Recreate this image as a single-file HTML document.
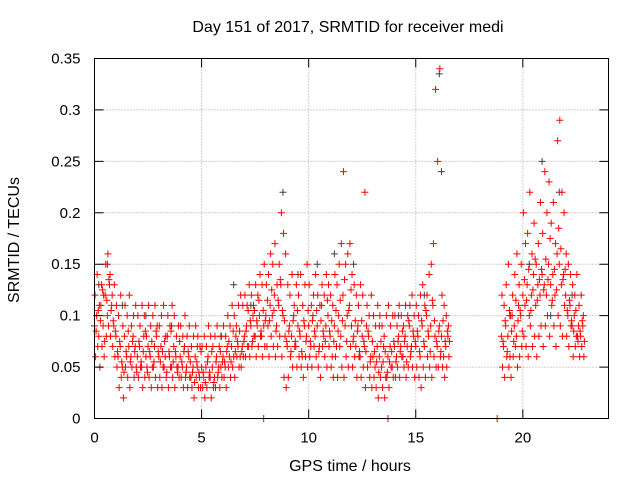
<!DOCTYPE html>
<html><head><meta charset="utf-8"><style>
body{margin:0;background:#fff}
svg{display:block;font-family:"Liberation Sans",sans-serif}
</style></head><body>
<svg id="chart" width="640" height="480" viewBox="0 0 640 480">
<rect width="640" height="480" fill="#fff"/>
<text x="348" y="32" font-size="16" text-anchor="middle">Day 151 of 2017, SRMTID for receiver medi</text>
<text transform="translate(19,240) rotate(-90)" font-size="16" text-anchor="middle">SRMTID / TECUs</text>
<text x="350" y="471" font-size="16" text-anchor="middle">GPS time / hours</text>
<g id="grid"></g>
<g id="marks"></g>
<rect x="94.5" y="58.5" width="514" height="360" fill="none" stroke="#000" stroke-width="1"/>
<g id="axes"></g>
</svg>
<script>
const xTicks=[0,5,10,15,20];
const yTicks=[0,0.05,0.1,0.15,0.2,0.25,0.3,0.35];
const yTickLabels=["0","0.05","0.1","0.15","0.2","0.25","0.3","0.35"];
const seg1Start=0.0, seg2Start=19.0, step=0.1;
const seg1A=[.09,.10,.08,.11,.09,.12,.10,.13,.11,.09,.08,.06,.07,.05,.08,.06,.07,.06,.08,.07,.06,.07,.05,.08,.06,.07,.06,.05,.07,.08,.06,.07,.05,.06,.08,.06,.05,.07,.06,.05,.06,.05,.07,.05,.06,.04,.05,.06,.05,.04,.05,.04,.05,.06,.04,.05,.04,.06,.05,.05,.06,.05,.07,.06,.07,.06,.08,.07,.06,.07,.08,.09,.07,.09,.10,.08,.09,.10,.08,.09,.10,.09,.11,.10,.12,.09,.11,.13,.10,.08,.07,.09,.08,.10,.07,.09,.08,.06,.09,.08,.09,.07,.10,.08,.09,.07,.11,.08,.09,.10,.08,.06,.09,.07,.10,.08,.12,.09,.10,.11,.09,.08,.07,.09,.06,.08,.07,.09,.08,.06,.06,.05,.07,.06,.05,.07,.04,.06,.07,.05,.07,.06,.08,.07,.06,.08,.07,.09,.07,.08,.07,.08,.06,.09,.07,.10,.08,.09,.11,.08,.07,.09,.08,.06,.07,.08];
const seg1B=[.12,.14,.11,.13,.12,.15,.16,.14,.12,.13,.11,.10,.12,.09,.11,.10,.12,.09,.10,.11,.10,.09,.11,.10,.08,.11,.09,.10,.11,.09,.09,.10,.11,.08,.10,.09,.11,.10,.08,.09,.09,.08,.10,.08,.09,.07,.08,.09,.08,.07,.07,.08,.07,.09,.08,.07,.08,.09,.07,.08,.09,.08,.10,.09,.11,.10,.09,.11,.12,.11,.12,.11,.13,.12,.11,.13,.12,.14,.13,.15,.13,.14,.16,.15,.17,.13,.15,.20,.18,.16,.13,.12,.14,.11,.13,.12,.14,.11,.13,.15,.13,.11,.12,.14,.12,.11,.13,.12,.14,.13,.12,.11,.14,.13,.15,.17,.24,.15,.16,.17,.14,.13,.12,.11,.13,.12,.22,.11,.10,.12,.10,.09,.11,.10,.09,.08,.10,.11,.09,.10,.10,.09,.11,.10,.09,.11,.10,.11,.12,.10,.11,.10,.12,.13,.11,.12,.14,.15,.17,.32,.25,.34,.12,.11,.10,.09];
const seg1C=[.06,.07,.05,.07,.06,.08,.09,.08,.07,.06,.05,.03,.04,.02,.05,.04,.03,.05,.04,.05,.04,.05,.03,.04,.05,.04,.03,.05,.04,.03,.04,.03,.05,.04,.03,.05,.04,.03,.05,.04,.04,.03,.04,.03,.04,.03,.02,.04,.03,.03,.03,.02,.03,.04,.02,.03,.03,.04,.03,.04,.04,.03,.05,.04,.05,.04,.06,.05,.05,.06,.06,.07,.06,.07,.08,.06,.07,.08,.06,.07,.07,.06,.08,.07,.06,.07,.08,.06,.04,.03,.04,.06,.05,.07,.05,.06,.05,.04,.06,.05,.06,.05,.07,.06,.05,.04,.07,.06,.05,.07,.05,.04,.06,.04,.07,.05,.04,.06,.05,.07,.05,.06,.04,.06,.04,.05,.03,.05,.04,.03,.04,.03,.02,.04,.03,.02,.04,.03,.05,.04,.04,.05,.04,.06,.05,.04,.05,.06,.05,.04,.05,.04,.03,.05,.04,.06,.05,.04,.06,.05,.05,.06,.05,.04,.05,.06];
const seg1D=[.085,.105,.095,.125,.075,.115,.135,.105,.095,.085,.065,.075,.055,.045,.065,.085,.055,.075,.065,.045,.075,.055,.065,.085,.045,.065,.075,.055,.085,.065,.055,.065,.075,.045,.065,.085,.055,.065,.045,.075,.055,.065,.045,.065,.055,.045,.035,.055,.045,.065,.045,.035,.055,.045,.065,.035,.055,.045,.065,.055,.055,.065,.075,.055,.085,.065,.075,.085,.065,.075,.085,.105,.095,.075,.105,.095,.115,.085,.105,.095,.115,.095,.125,.105,.085,.115,.135,.105,.095,.075,.085,.065,.095,.075,.105,.085,.065,.095,.075,.105,.075,.095,.085,.105,.065,.095,.085,.075,.115,.085,.095,.075,.105,.085,.115,.095,.135,.075,.105,.125,.075,.095,.085,.065,.095,.075,.065,.085,.055,.075,.065,.055,.045,.075,.055,.065,.045,.055,.065,.075,.055,.075,.065,.085,.075,.055,.095,.065,.085,.075,.085,.065,.095,.075,.105,.085,.065,.115,.095,.075,.085,.065,.095,.075,.085,.075];
const seg2A=[.08,.07,.09,.08,.06,.10,.09,.08,.11,.10,.12,.11,.13,.10,.12,.14,.11,.13,.12,.14,.13,.12,.15,.13,.14,.12,.16,.15,.13,.14,.12,.10,.11,.09,.10,.08,.09,.08,.09];
const seg2B=[.12,.11,.13,.15,.10,.12,.14,.16,.13,.15,.20,.17,.18,.22,.16,.19,.15,.17,.21,.18,.24,.20,.23,.19,.21,.17,.27,.29,.22,.20,.16,.15,.14,.13,.12,.14,.11,.12,.10];
const seg2C=[.05,.04,.06,.05,.04,.06,.07,.05,.06,.07,.08,.07,.06,.09,.07,.08,.06,.08,.09,.07,.09,.10,.08,.11,.09,.07,.10,.09,.08,.11,.08,.07,.09,.06,.07,.08,.06,.07,.06];
const seg2D=[.075,.095,.065,.105,.085,.075,.115,.095,.105,.085,.135,.115,.145,.105,.125,.155,.115,.135,.145,.125,.155,.135,.175,.115,.145,.125,.185,.165,.135,.145,.105,.115,.095,.085,.105,.075,.085,.095,.075];
const greyT=[0.2,0.6,1.3,2.4,3.6,4.8,5.9,6.5,7.3,8.8,9.5,10.4,11.2,12.1,13.3,14.2,15.4,16.1,16.2,19.4,20.3,20.9,21.3,21.7,22.3];
const greyV=[0.13,0.15,0.11,0.10,0.09,0.07,0.08,0.13,0.11,0.22,0.14,0.15,0.16,0.15,0.09,0.10,0.12,0.335,0.24,0.10,0.15,0.25,0.10,0.22,0.12];
const zeroT=[7.9,13.7,18.8];
const zeroV=[0,0,0];

const X0=94.5,X1=608.5,Y0=418.5,Y1=58.5,XMAX=24,YMAX=0.35;
const xs=t=>X0+(X1-X0)*t/XMAX;
const ys=v=>Y0-(Y0-Y1)*v/YMAX;
const NS="http://www.w3.org/2000/svg";
const grid=document.getElementById('grid'),axes=document.getElementById('axes'),marks=document.getElementById('marks');
function mk(tag,attrs,parent){const e=document.createElementNS(NS,tag);for(const k in attrs)e.setAttribute(k,attrs[k]);parent.appendChild(e);return e;}
yTicks.forEach((v,i)=>{
  const y=ys(v);
  if(i>0&&i<yTicks.length-1){const g=mk('line',{x1:X0,x2:X1,y1:y,y2:y,stroke:'#a0a0a0','stroke-dasharray':'1,2'},grid);
  
  }
  const t1=mk('path',{d:`M${X0},${y}h9M${X1},${y}h-9`,stroke:'#000'},axes);
  
  
  const l=mk('text',{x:X0-14,y:y+5,'font-size':'15','text-anchor':'end'},axes);l.textContent=yTickLabels[i];
  
  
});
xTicks.forEach(t=>{
  const x=xs(t);
  if(t>0){const g=mk('line',{x1:x,x2:x,y1:Y0,y2:Y1,stroke:'#a0a0a0','stroke-dasharray':'1,2'},grid);
  
  }
  const t1=mk('path',{d:`M${x},${Y0}v-9M${x},${Y1}v9`,stroke:'#000'},axes);
  
  
  const l=mk('text',{x:x,y:Y0+24,'font-size':'15','text-anchor':'middle'},axes);l.textContent=String(t);
  
  
});
function plus(t,v,color,name){
  const x=xs(t),y=ys(v);
  const p=mk('path',{d:`M${x-3.5},${y}h7M${x},${y-3.5}v7`,stroke:color,'stroke-width':'1'},marks);
  
  
}
greyT.forEach((t,i)=>plus(t,greyV[i],'#404040','grey-point'));
[seg1A,seg1B,seg1C,seg1D].forEach((arr,k)=>arr.forEach((v,i)=>plus(seg1Start+i*step+k*0.025,v,'#ff0000','srmtid-point')));
[seg2A,seg2B,seg2C,seg2D].forEach((arr,k)=>arr.forEach((v,i)=>plus(seg2Start+i*step+k*0.025,v,'#ff0000','srmtid-point')));
zeroT.forEach((t,i)=>plus(t,zeroV[i],'#ff0000','zero-point'));
</script>
</body></html>
